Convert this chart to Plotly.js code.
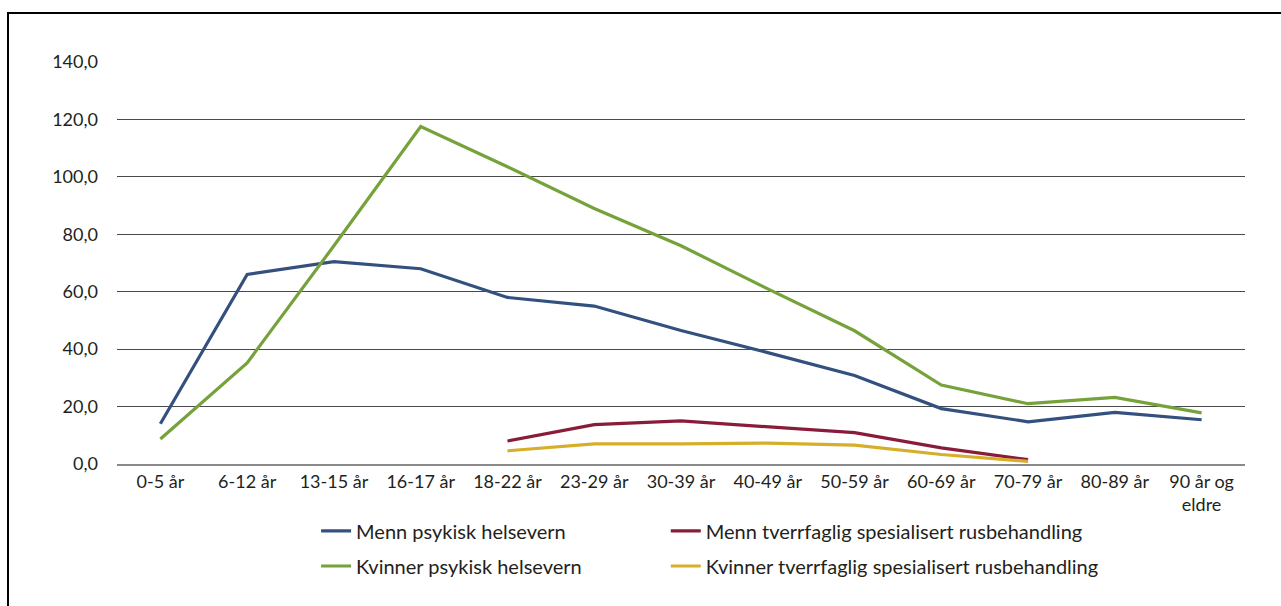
<!DOCTYPE html>
<html>
<head>
<meta charset="utf-8">
<script src="https://cdn.plot.ly/plotly-3.0.1.min.js"></script>
<style>
  html, body { margin: 0; padding: 0; background: #fff; }
  #wrap { position: relative; width: 1281px; height: 606px; overflow: hidden; }
  #frame { position: absolute; left: 7px; top: 12px; width: 1300px; height: 700px;
           border-left: 2px solid #000; border-top: 2px solid #000; pointer-events: none; z-index: 5; }
  #chart { position: absolute; left: 0; top: 0; width: 1281px; height: 606px; }
</style>
</head>
<body>
<div id="wrap">
  <div id="chart"></div>
  <div id="frame"></div>
</div>
<script>
const categories = ["0-5 år", "6-12 år", "13-15 år", "16-17 år", "18-22 år", "23-29 år", "30-39 år",
  "40-49 år", "50-59 år", "60-69 år", "70-79 år", "80-89 år", "90 år og<br>eldre"];

const mennPsykisk    = [14.0, 66.0, 70.5, 68.0, 58.0, 55.0, 46.5, 38.8, 30.8, 19.3, 14.7, 18.0, 15.4];
const kvinnerPsykisk = [8.7, 35.2, 76.0, 117.5, 103.5, 89.0, 76.0, 61.0, 46.4, 27.5, 21.0, 23.2, 17.8];
const mennTSB        = [null, null, null, null, 8.0, 13.7, 15.0, 12.9, 10.9, 5.6, 1.5, null, null];
const kvinnerTSB     = [null, null, null, null, 4.6, 7.0, 7.0, 7.3, 6.6, 3.3, 0.9, null, null];

const seriesNames = ["Menn psykisk helsevern", "Menn tverrfaglig spesialisert rusbehandling",
  "Kvinner psykisk helsevern", "Kvinner tverrfaglig spesialisert rusbehandling"];
const seriesColors = ["#34507e", "#8a1c3b", "#76a23b", "#d6ae2a"];
const seriesValues = [mennPsykisk, mennTSB, kvinnerPsykisk, kvinnerTSB];
const legendIds = ["legend", "legend2", "legend3", "legend4"];

const yTicks = [0, 20, 40, 60, 80, 100, 120, 140];

const textColor = "#231f20";
const fontFam = "Lato, 'Open Sans', sans-serif";

const traces = seriesValues.map((vals, i) => ({
  type: "scatter",
  mode: "lines",
  x: categories,
  y: vals,
  name: seriesNames[i],
  line: { color: seriesColors[i], width: 3.2 },
  connectgaps: false,
  legend: legendIds[i],
  hoverinfo: "x+y+name"
}));

const order = [0, 2, 1, 3];
const data = order.map(i => traces[i]);

const legendPos = [
  { x: 0.1765, y: -0.1666 },
  { x: 0.4865, y: -0.1666 },
  { x: 0.1765, y: -0.2537 },
  { x: 0.4865, y: -0.2537 }
];

const layout = {
  width: 1281,
  height: 606,
  paper_bgcolor: "rgba(0,0,0,0)",
  plot_bgcolor: "rgba(0,0,0,0)",
  margin: { l: 117, r: 36, t: 62, b: 142 },
  separators: ", ",
  font: { family: fontFam, size: 18, color: textColor },
  showlegend: true,
  xaxis: {
    type: "category",
    range: [-0.5, 12.5],
    tickangle: 0,
    showgrid: false,
    showline: true,
    linecolor: "#8a8a8a",
    linewidth: 2,
    ticks: "",
    zeroline: false,
    fixedrange: true,
    tickfont: { family: fontFam, size: 18, color: textColor }
  },
  yaxis: {
    range: [0, 140],
    tickvals: yTicks,
    tickformat: ".1f",
    showgrid: true,
    gridcolor: "#4a4a4a",
    gridwidth: 1,
    zeroline: false,
    showline: false,
    ticks: "",
    ticklabelstandoff: 18,
    fixedrange: true,
    tickfont: { family: fontFam, size: 18, color: textColor }
  }
};

legendIds.forEach((id, i) => {
  layout[id] = {
    x: legendPos[i].x,
    y: legendPos[i].y,
    xanchor: "left",
    yanchor: "middle",
    orientation: "v",
    bgcolor: "rgba(0,0,0,0)",
    borderwidth: 0,
    font: { family: fontFam, size: 20, color: textColor },
    itemwidth: 30
  };
});

Plotly.newPlot("chart", data, layout, { displayModeBar: false, staticPlot: true });
</script>
</body>
</html>
